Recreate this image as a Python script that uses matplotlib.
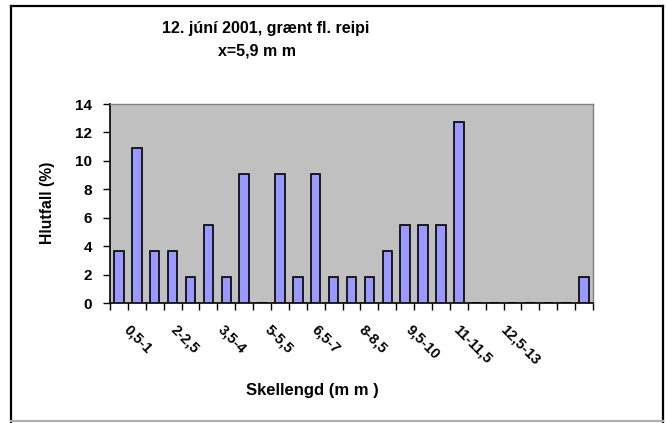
import numpy as np
import matplotlib
matplotlib.use('Agg')
import matplotlib.pyplot as plt
from matplotlib.lines import Line2D

# 27 flokkar, 0,5 mm hver
flokkar = ['0-0,5', '0,5-1', '1-1,5', '1,5-2', '2-2,5', '2,5-3', '3-3,5', '3,5-4',
           '4-4,5', '4,5-5', '5-5,5', '5,5-6', '6-6,5', '6,5-7', '7-7,5', '7,5-8',
           '8-8,5', '8,5-9', '9-9,5', '9,5-10', '10-10,5', '10,5-11', '11-11,5',
           '11,5-12', '12-12,5', '12,5-13', '13-13,5']
fjoldi = [2, 6, 2, 2, 1, 3, 1, 5, 0, 5, 1, 5, 1, 1, 1, 2, 3, 3, 3, 7,
          0, 0, 0, 0, 0, 0, 1]
hlutfall = [100.0 * k / sum(fjoldi) for k in fjoldi]
syndir_flokkar = flokkar[1::3]

titill1 = '12. júní 2001, grænt fl. reipi'
titill2 = 'x=5,9 m m'
xlabel = 'Skellengd (m m )'
ylabel = 'Hlutfall (%)'

plt.rcParams['font.family'] = ['Liberation Sans', 'DejaVu Sans']
plt.rcParams['font.weight'] = 'bold'

W, H = 666, 423
fig = plt.figure(figsize=(W / 100, H / 100), dpi=100)
fig.patch.set_facecolor('white')

# ramminn utan um
def px(x, y):
    return x / W, 1 - y / H
for (x0, y0), (x1, y1), c in [((11, 6), (663, 6), 'black'), ((11, 6), (11, 422), 'black'),
                              ((663, 6), (663, 422), 'black'), ((11, 421), (663, 421), '#b0b0b0')]:
    a, b = px(x0, y0)
    c2, d = px(x1, y1)
    fig.add_artist(Line2D([a, c2], [b, d], color=c, lw=1.6, transform=fig.transFigure))

ax = fig.add_axes([110 / W, 1 - 303 / H, 483 / W, 199 / H])
ax.set_facecolor('#c0c0c0')
x = np.arange(len(flokkar))
ax.bar(x, hlutfall, width=0.53, color='#9999ff', edgecolor='black', linewidth=1.2, zorder=3)

ax.set_xlim(-0.5, len(flokkar) - 0.5)
ax.set_ylim(0, 14)
ax.set_yticks(np.arange(0, 15, 2))
ax.tick_params(axis='y', length=5, width=1, pad=8, labelsize=11)

# merkingar á x-ás
ax.set_xticks(np.arange(-0.5, len(flokkar), 1), minor=True)
label_pos = 0.12 + 2.63 * np.arange(len(syndir_flokkar))
ax.set_xticks(label_pos)
ax.set_xticklabels(syndir_flokkar, rotation=-45, ha='left', va='top', fontsize=10.5)
ax.tick_params(axis='x', which='major', length=0, pad=14)
ax.tick_params(axis='x', which='minor', length=5, width=1)

for s in ['top', 'right']:
    ax.spines[s].set_color('#808080')
    ax.spines[s].set_linewidth(1)
for s in ['left', 'bottom']:
    ax.spines[s].set_color('black')
    ax.spines[s].set_linewidth(1.2)

fig.text(266 / W, 1 - 28 / H, titill1, ha='center', va='center', fontsize=11.5, fontweight='bold')
fig.text(257 / W, 1 - 51 / H, titill2, ha='center', va='center', fontsize=11.5, fontweight='bold')
fig.text(312 / W, 1 - 390 / H, xlabel, ha='center', va='center', fontsize=12, fontweight='bold')
fig.text(47 / W, 1 - 203 / H, ylabel, ha='center', va='center', rotation=90, fontsize=11.3, fontweight='bold')

fig.savefig('out.png', dpi=100)
